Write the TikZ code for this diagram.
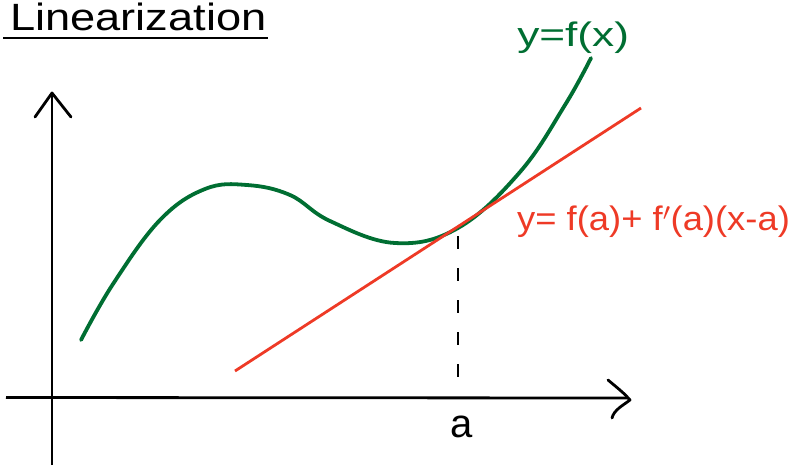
\documentclass[tikz,border=0pt]{standalone}
\usepackage{fontspec}
\setmainfont{Liberation Sans}
\usetikzlibrary{arrows.meta}
\definecolor{curvegreen}{RGB}{0,110,50}
\definecolor{tanred}{RGB}{238,58,38}
\tikzset{
  axisline/.style={line width=2.8pt,black},
  barbtip/.style={line width=2.8pt,black,line cap=round,line join=round},
  greencurve/.style={line width=3.8pt,curvegreen,line cap=round},
  redline/.style={line width=2.8pt,tanred},
  dashline/.style={line width=2.8pt,black,dash pattern=on 13pt off 19pt},
  hand/.style={inner sep=0pt,anchor=base west},
}
\begin{document}
\begin{tikzpicture}[x=1pt,y=-1pt]
\useasboundingbox (0,0) rectangle (789,467);
% title
\node[hand,font=\fontsize{38}{38}\selectfont,xscale=1.19] (title) at (10,30) {Linearization};
\coordinate (ul1) at (3,38);
\coordinate (ul2) at (268,38);
\draw[line width=2.8pt] (ul1) -- (ul2);
% axes
\coordinate (yb) at (52,465);
\coordinate (yt) at (52,93);
\coordinate (xl) at (6,397.5);
\coordinate (xr) at (628,398);
\draw[axisline] (yb) -- (yt);
\draw[barbtip] (35,117) -- (yt) -- (71,117);
\draw[axisline] (xl) -- (xr);
\draw[barbtip] (608,380) .. controls (620,390) and (625,394) .. (630,400) .. controls (622,406) and (614,410) .. (612,418);
% green curve
\draw[greencurve] plot[smooth,tension=0.65] coordinates {
 (81,340) (113,284) (160,220) (205,189)
 (247,185) (290,195) (330,221) (395,243) (458,228)
 (520,172) (565,105) (591,58)};
% tangent line
\coordinate (r1) at (235,371);
\coordinate (r2) at (641,108);
\draw[redline] (r1) -- (r2);
% dashed drop
\coordinate (d1) at (458,236);
\coordinate (d2) at (458,396);
\draw[dashline] (d1) -- (d2);
% labels
\node[hand,font=\fontsize{40}{40}\selectfont] (alab) at (450,437) {a};
\node[hand,font=\fontsize{34}{34}\selectfont,curvegreen,xscale=1.3] (flab) at (517,46) {y=f(x)};
\node[hand,font=\fontsize{34}{34}\selectfont,tanred,xscale=1.07] (tlab) at (517,230) {y= f(a)+ f$'$(a)(x-a)};
\end{tikzpicture}
\end{document}
